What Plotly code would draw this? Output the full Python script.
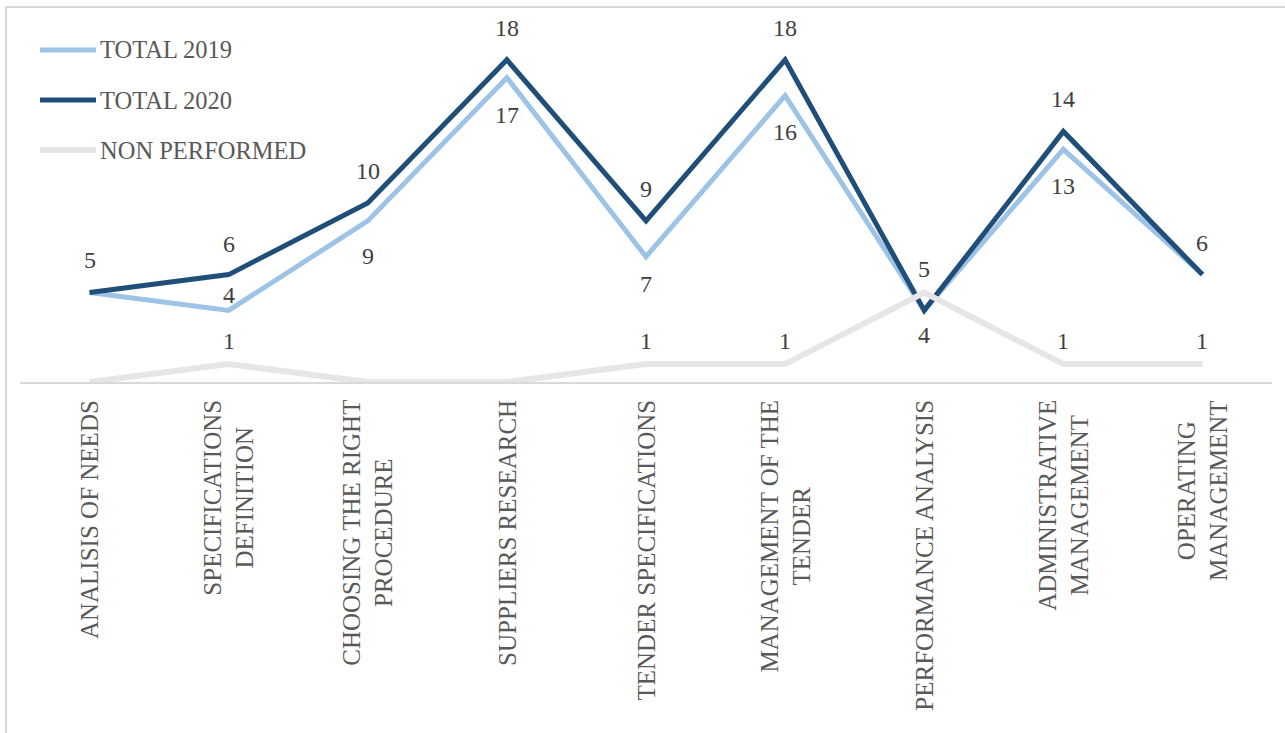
import plotly.graph_objects as go

# Procurement phases (x categories) and the wrapped labels drawn under the axis
categories = [
    "ANALISIS OF NEEDS",
    "SPECIFICATIONS DEFINITION",
    "CHOOSING THE RIGHT PROCEDURE",
    "SUPPLIERS RESEARCH",
    "TENDER SPECIFICATIONS",
    "MANAGEMENT OF THE TENDER",
    "PERFORMANCE ANALYSIS",
    "ADMINISTRATIVE MANAGEMENT",
    "OPERATING MANAGEMENT",
]
tick_labels = [
    "ANALISIS OF NEEDS",
    "SPECIFICATIONS<br>DEFINITION",
    "CHOOSING THE RIGHT<br>PROCEDURE",
    "SUPPLIERS RESEARCH",
    "TENDER SPECIFICATIONS",
    "MANAGEMENT OF THE<br>TENDER",
    "PERFORMANCE ANALYSIS",
    "ADMINISTRATIVE<br>MANAGEMENT",
    "OPERATING<br>MANAGEMENT",
]

# Series
series_names = ["TOTAL 2019", "TOTAL 2020", "NON PERFORMED"]
total_2019 = [5, 4, 9, 17, 7, 16, 4, 13, 6]
total_2020 = [5, 6, 10, 18, 9, 18, 4, 14, 6]
non_performed = [0, 1, 0, 0, 1, 1, 5, 1, 1]

# Styling
colors = ["#9DC3E6", "#1F4E79", "#E7E6E6"]
widths = [5, 5, 6]
FONT = "Liberation Serif"
LABEL_COLOR = "#404040"
TEXT_COLOR = "#595959"

# Vertical pixel offset of each data label from its point (None = no label)
label_shift = [
    [None, 15, -35, -37, -27, -36, -25, -37, None],
    [33, 31, 32, 32, 32, 32, None, 32, 32],
    [None, 23, None, None, 23, 23, 24, 23, 23],
]

W, H = 1285, 733
ML, MR, MT, MB = 20, 13, 24, 351
PW = W - ML - MR
PH = H - MT - MB

fig = go.Figure()
all_series = [total_2019, total_2020, non_performed]
for name, vals, col, w in zip(series_names, all_series, colors, widths):
    fig.add_trace(go.Scatter(
        x=categories, y=vals, name=name, mode="lines",
        line=dict(color=col, width=w), showlegend=False,
        hoverinfo="x+y+name",
    ))

annotations = []
# Data labels
for vals, shifts in zip(all_series, label_shift):
    for cat, v, s in zip(categories, vals, shifts):
        if s is None:
            continue
        annotations.append(dict(
            x=cat, y=v, xref="x", yref="y", text=str(v), showarrow=False,
            yshift=s, font=dict(family=FONT, size=24, color=LABEL_COLOR),
        ))

# Rotated category labels below the axis
for cat, lab in zip(categories, tick_labels):
    annotations.append(dict(
        x=cat, y=0, xref="x", yref="paper", text=lab, showarrow=False,
        textangle=-90, yanchor="top", xanchor="center", yshift=-16,
        align="center",
        font=dict(family=FONT, size=25, color=TEXT_COLOR),
    ))

def px_x(p):
    return (p - ML) / PW

def px_y(p):
    return 1 - (p - MT) / PH

shapes = []
# Legend entries (line sample + name)
for i, (name, col, w) in enumerate(zip(series_names, colors, widths)):
    yy = 50 + 50 * i
    shapes.append(dict(
        type="line", xref="paper", yref="paper",
        x0=px_x(40), x1=px_x(96), y0=px_y(yy), y1=px_y(yy),
        line=dict(color=col, width=w),
    ))
    annotations.append(dict(
        x=px_x(98), y=px_y(yy), xref="paper", yref="paper", text=name,
        showarrow=False, xanchor="left", yanchor="middle",
        font=dict(family=FONT, size=24.5, color=TEXT_COLOR),
    ))

# Chart frame
shapes.append(dict(
    type="rect", xref="paper", yref="paper", layer="below",
    x0=px_x(6), x1=px_x(1300), y0=px_y(7), y1=px_y(760),
    line=dict(color="#D9D9D9", width=2), fillcolor="rgba(0,0,0,0)",
))

fig.update_layout(
    width=W, height=H,
    margin=dict(l=ML, r=MR, t=MT, b=MB),
    paper_bgcolor="white", plot_bgcolor="white",
    xaxis=dict(
        type="category", range=[-0.5, len(categories) - 0.5],
        showticklabels=False, showgrid=False, zeroline=False,
        showline=True, linecolor="#D9D9D9", linewidth=2, ticks="",
    ),
    yaxis=dict(
        range=[0, 20], showticklabels=False, showgrid=False,
        zeroline=False, showline=False, ticks="",
    ),
    annotations=annotations,
    shapes=shapes,
    showlegend=False,
)

fig.write_html("out.html")
